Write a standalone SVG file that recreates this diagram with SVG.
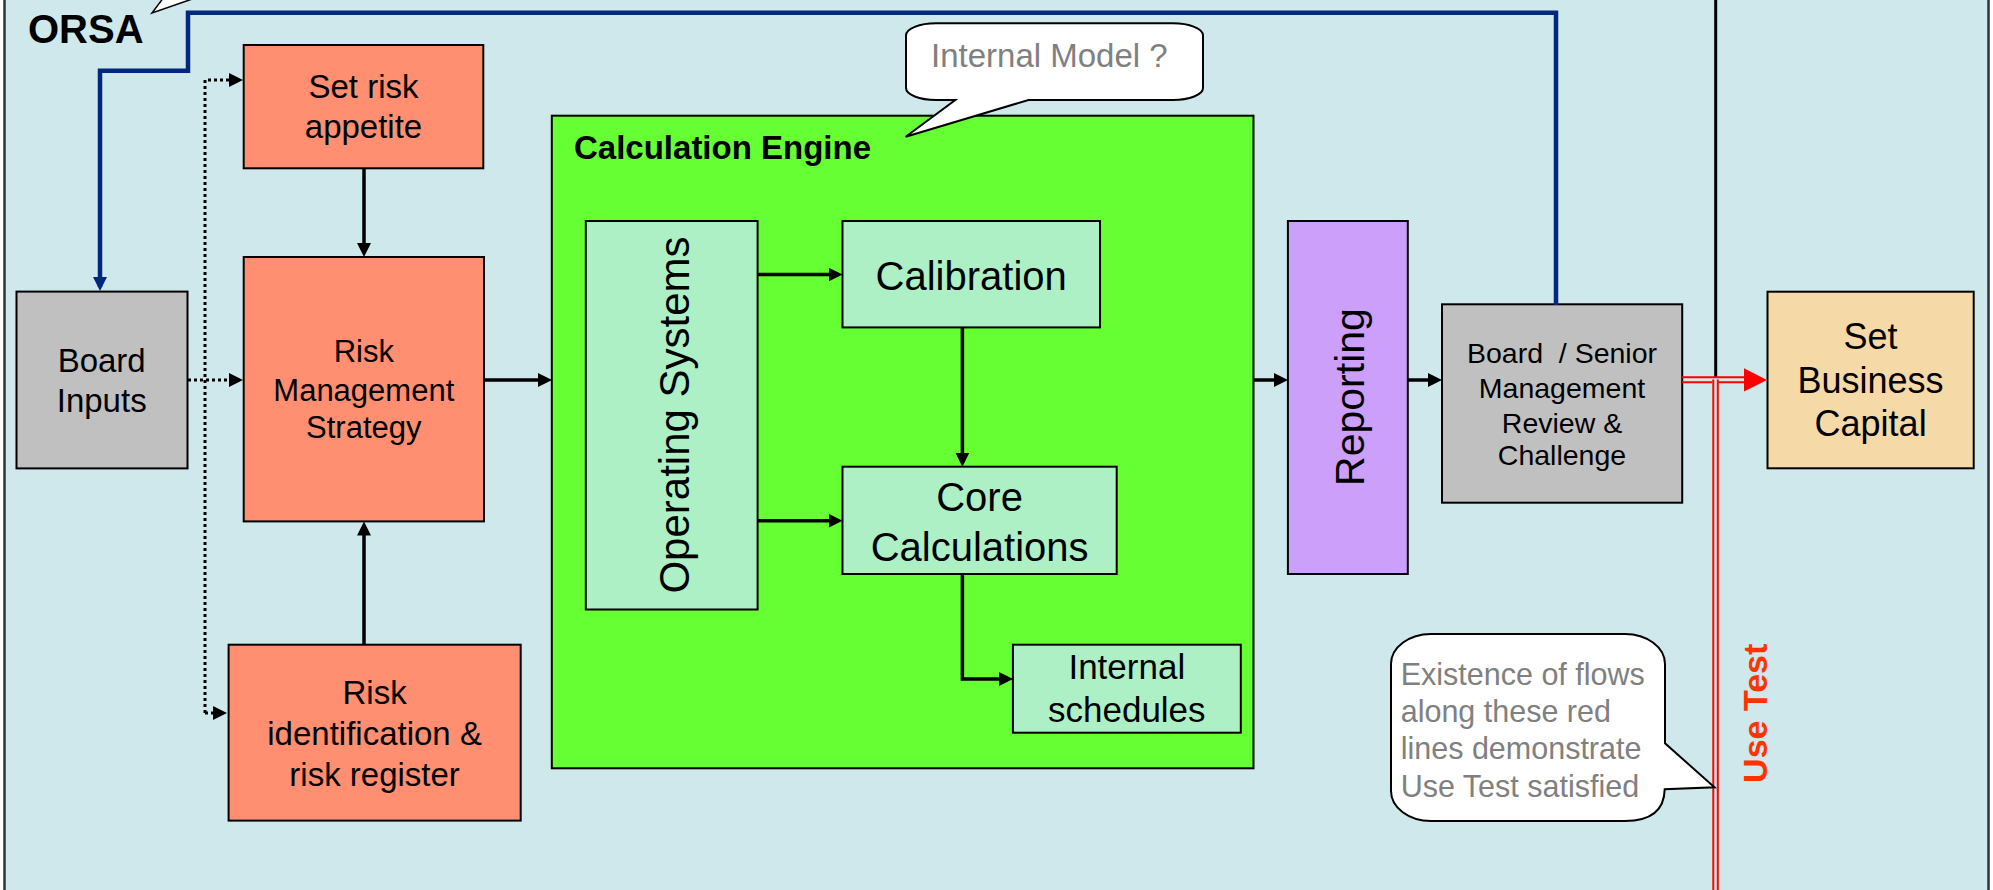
<svg xmlns="http://www.w3.org/2000/svg" width="1993" height="890" viewBox="0 0 1993 890">
  <style>
    text { font-family: "Liberation Sans", Arial, sans-serif; }
    .c { text-anchor: middle; fill: #000; }
    .gray { fill: #808080; }
    .b { font-weight: bold; }
    .box { stroke: #000; stroke-width: 2; }
    .salmon { fill: #FF8F70; }
    .grey { fill: #C0C0C0; }
    .lg { fill: #AEF0C6; }
    .conn { fill: none; stroke: #000; stroke-width: 3.5; }
    .dot { fill: none; stroke: #000; stroke-width: 3; stroke-dasharray: 3 3; }
    .blue { fill: none; stroke: #00287D; stroke-width: 4.5; stroke-linejoin: miter; }
    .red { fill: none; stroke: #FF0000; stroke-width: 2; }
    .bubble { fill: #FFF; stroke: #000; stroke-width: 2; }
  </style>
  <defs>
    <marker id="ah" viewBox="0 0 14 14" refX="10" refY="7" markerWidth="14" markerHeight="14" markerUnits="userSpaceOnUse" orient="auto">
      <path d="M0,0 L14,7 L0,14 z" fill="#000"/>
    </marker>
    <marker id="ahb" viewBox="0 0 14 14" refX="10" refY="7" markerWidth="14" markerHeight="14" markerUnits="userSpaceOnUse" orient="auto">
      <path d="M0,0 L14,7 L0,14 z" fill="#00287D"/>
    </marker>
  </defs>

  <!-- page and framed panel -->
  <rect x="0" y="0" width="1993" height="890" fill="#FFFFFF"/>
  <rect x="4.5" y="-10" width="1984" height="910" fill="#CFE8EB" stroke="#333" stroke-width="2.5"/>

  <!-- ORSA label and the tail of its bubble -->
  <g id="orsa">
    <path d="M164,-3 L152,13 L198,-3" fill="#FFF" stroke="#000" stroke-width="1.5"/>
    <text x="28" y="43" font-size="40" class="b" fill="#000">ORSA</text>
  </g>

  <g id="board-inputs">
    <rect class="box grey" x="16.5" y="291.6" width="171" height="176.8"/>
    <text class="c" font-size="33" x="101.7" y="371.6">Board</text>
    <text class="c" font-size="33" x="101.7" y="412.4">Inputs</text>
  </g>

  <g id="set-risk-appetite">
    <rect class="box salmon" x="243.7" y="45" width="239.6" height="123.3"/>
    <text class="c" font-size="33" x="363.5" y="98.3">Set risk</text>
    <text class="c" font-size="33" x="363.5" y="138.3">appetite</text>
  </g>

  <g id="risk-management-strategy">
    <rect class="box salmon" x="243.7" y="257" width="240.3" height="264.4"/>
    <text class="c" font-size="31" x="363.8" y="362">Risk</text>
    <text class="c" font-size="31" x="363.8" y="401">Management</text>
    <text class="c" font-size="31" x="363.8" y="438">Strategy</text>
  </g>

  <g id="risk-identification">
    <rect class="box salmon" x="228.6" y="644.7" width="292.1" height="175.9"/>
    <text class="c" font-size="33" x="374.6" y="704">Risk</text>
    <text class="c" font-size="33" x="374.6" y="744.7">identification &amp;</text>
    <text class="c" font-size="33" x="374.6" y="785.5">risk register</text>
  </g>

  <g id="calculation-engine">
    <rect class="box" fill="#66FF33" x="551.8" y="115.7" width="701.7" height="652.6"/>
    <text x="574" y="159.3" font-size="33" class="b" fill="#000">Calculation Engine</text>
  </g>

  <g id="operating-systems">
    <rect class="box lg" x="585.8" y="221" width="171.8" height="388.5"/>
    <text class="c" font-size="42" transform="translate(688.5,415) rotate(-90)">Operating Systems</text>
  </g>

  <g id="calibration">
    <rect class="box lg" x="842.5" y="221" width="257.5" height="106.4"/>
    <text class="c" font-size="40" x="971.2" y="290">Calibration</text>
  </g>

  <g id="core-calculations">
    <rect class="box lg" x="842.5" y="466.7" width="274.2" height="107.3"/>
    <text class="c" font-size="40" x="979.6" y="510.8">Core</text>
    <text class="c" font-size="40" x="979.6" y="561">Calculations</text>
  </g>

  <g id="internal-schedules">
    <rect class="box lg" x="1012.9" y="644.7" width="227.9" height="88"/>
    <text class="c" font-size="35" x="1126.8" y="679">Internal</text>
    <text class="c" font-size="35" x="1126.8" y="722.4">schedules</text>
  </g>

  <g id="internal-model-note">
    <path class="bubble" d="M936,23.3 H1173 A30,12 0 0 1 1203,35.3 V88 A30,12 0 0 1 1173,100 H1028.4 L905.7,136.7 L955.3,100 H936 A30,12 0 0 1 906,88 V35.3 A30,12 0 0 1 936,23.3 Z"/>
    <text x="931" y="66.7" font-size="33" class="gray">Internal Model ?</text>
  </g>

  <g id="reporting">
    <rect class="box" fill="#CC9FFA" x="1287.9" y="221" width="119.9" height="353"/>
    <text class="c" font-size="41" transform="translate(1363.7,397) rotate(-90)">Reporting</text>
  </g>

  <g id="board-review">
    <rect class="box grey" x="1442" y="304.3" width="240.2" height="198.4"/>
    <text class="c" font-size="28.5" x="1562" y="362.7" style="white-space:pre">Board  / Senior</text>
    <text class="c" font-size="28.5" x="1562" y="398.3">Management</text>
    <text class="c" font-size="28.5" x="1562" y="432.7">Review &amp;</text>
    <text class="c" font-size="28.5" x="1562" y="465">Challenge</text>
  </g>

  <g id="set-business-capital">
    <rect class="box" fill="#F5D9A6" x="1767.5" y="291.7" width="206.2" height="176.6"/>
    <text class="c" font-size="36" x="1870.6" y="349.3">Set</text>
    <text class="c" font-size="36" x="1870.6" y="392.7">Business</text>
    <text class="c" font-size="36" x="1870.6" y="436">Capital</text>
  </g>

  <!-- connectors, drawn over the boxes they join -->
  <g id="connectors">
    <!-- ORSA feedback loop -->
    <path class="blue" d="M1556,305 V12.7 H188 V70.7 H100 V287" marker-end="url(#ahb)"/>
    <!-- board guidance (dotted) -->
    <path class="dot" d="M205,713 V80 H239" marker-end="url(#ah)"/>
    <path class="dot" d="M205,713 H223" marker-end="url(#ah)"/>
    <path class="dot" d="M188,380 H239" marker-end="url(#ah)"/>
    <!-- main flow -->
    <path class="conn" d="M364,168 V253" marker-end="url(#ah)"/>
    <path class="conn" d="M364,645 V525.5" marker-end="url(#ah)"/>
    <path class="conn" d="M484,380 H548" marker-end="url(#ah)"/>
    <path class="conn" d="M757.6,274.6 H838.5" marker-end="url(#ah)"/>
    <path class="conn" d="M757.6,520.7 H838.5" marker-end="url(#ah)"/>
    <path class="conn" d="M962.4,327.4 V462.7" marker-end="url(#ah)"/>
    <path class="conn" d="M962.4,574 V679 H1009" marker-end="url(#ah)"/>
    <path class="conn" d="M1253.5,380 H1284" marker-end="url(#ah)"/>
    <path class="conn" d="M1407.8,380 H1438" marker-end="url(#ah)"/>
    <!-- use test boundary -->
    <path d="M1715.7,0 V378" fill="none" stroke="#000" stroke-width="3"/>
    <path class="red" d="M1682,377.3 H1746"/>
    <path class="red" d="M1682,382.3 H1712.3 M1718.7,382.3 H1746"/>
    <path class="red" d="M1713.3,379.5 V890 M1717.8,379.5 V890"/>
    <polygon points="1744,368.3 1767,380 1744,391.5" fill="#FF0000"/>
  </g>

  <g id="use-test-note">
    <path class="bubble" d="M1431,634 H1625 A40,30 0 0 1 1665,664 V743.3 L1714.5,787.3 L1664.7,789.3 Q1664,821 1625,821 H1431 A40,30 0 0 1 1391,791 V664 A40,30 0 0 1 1431,634 Z"/>
    <text x="1400.7" y="685" font-size="30.5" class="gray">Existence of flows</text>
    <text x="1400.7" y="721.7" font-size="30.5" class="gray">along these red</text>
    <text x="1400.7" y="759.3" font-size="30.5" class="gray">lines demonstrate</text>
    <text x="1400.7" y="796.7" font-size="30.5" class="gray">Use Test satisfied</text>
  </g>

  <g id="use-test-label">
    <text class="b" font-size="34" fill="#FF3300" text-anchor="middle" transform="translate(1766.6,713.3) rotate(-90)">Use Test</text>
  </g>
</svg>
